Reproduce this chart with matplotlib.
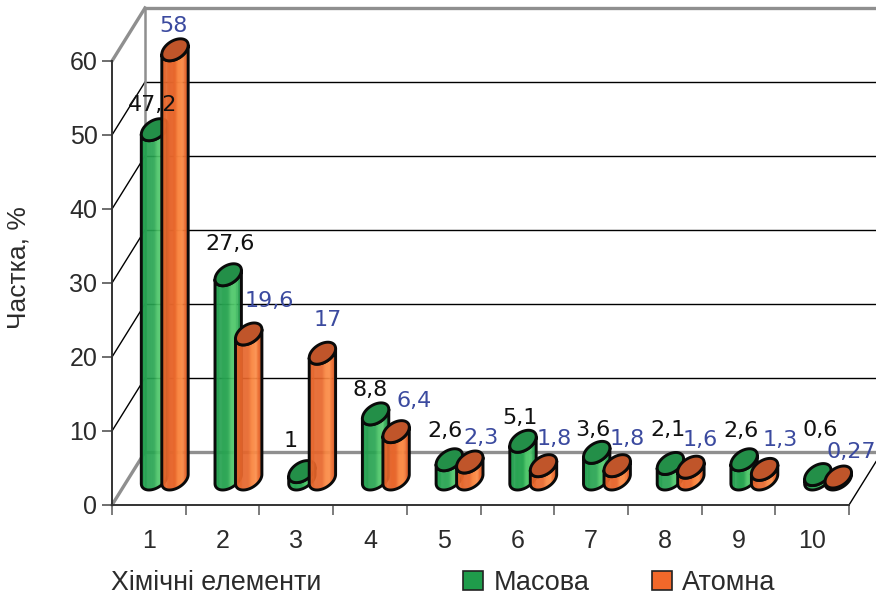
import numpy as np
import matplotlib
matplotlib.use("Agg")
import matplotlib.pyplot as plt
from matplotlib.patches import Patch

categories = ["1", "2", "3", "4", "5", "6", "7", "8", "9", "10"]
mass_values = [47.2, 27.6, 1, 8.8, 2.6, 5.1, 3.6, 2.1, 2.6, 0.6]
atom_values = [58, 19.6, 17, 6.4, 2.3, 1.8, 1.8, 1.6, 1.3, 0.27]
mass_labels = ["47,2", "27,6", "1", "8,8", "2,6", "5,1", "3,6", "2,1", "2,6", "0,6"]
atom_labels = ["58", "19,6", "17", "6,4", "2,3", "1,8", "1,8", "1,6", "1,3", "0,27"]
y_ticks = [0, 10, 20, 30, 40, 50, 60]

W, H = 876, 596
L, R, B, T = 112, 849, 505, 61
PX = (R - L) / 10          # px per category
PY = (B - T) / 60          # px per percent
DEPTH_X, DEPTH_Y = 33 / PX, 53 / PY

fig = plt.figure(figsize=(W / 100, H / 100), dpi=100, facecolor="white")
ax = fig.add_axes([L / W, (H - B) / H, (R - L) / W, (B - T) / H])
ax.set_xlim(0, 10)
ax.set_ylim(0, 60)
ax.patch.set_visible(False)
plt.rcParams["font.family"] = ["Liberation Sans", "DejaVu Sans"]
AXIS_FONT = "Liberation Sans"
LABEL_FONT = "DejaVu Sans"
TXT = "#2b2b2b"
GREY = "#8f8f8f"

# walls
right_lim = (W - L) / PX
for v in y_ticks[1:-1]:
    ax.plot([DEPTH_X, right_lim], [v + DEPTH_Y] * 2, color="black", lw=1, clip_on=False, zorder=1)
for v in y_ticks[1:-1]:
    ax.plot([0, DEPTH_X], [v, v + DEPTH_Y], color="black", lw=1, clip_on=False, zorder=1)
ax.plot([DEPTH_X, right_lim], [60 + DEPTH_Y] * 2, color=GREY, lw=2.4, clip_on=False, zorder=1)
ax.plot([DEPTH_X, right_lim], [DEPTH_Y] * 2, color=GREY, lw=2.4, clip_on=False, zorder=1)
ax.plot([DEPTH_X, DEPTH_X], [DEPTH_Y, 60 + DEPTH_Y], color=GREY, lw=1.8, clip_on=False, zorder=1)
ax.plot([0, DEPTH_X], [60, 60 + DEPTH_Y], color=GREY, lw=2.4, clip_on=False, zorder=1)
ax.plot([0, DEPTH_X], [0, DEPTH_Y], color=GREY, lw=2.4, clip_on=False, zorder=1)
ax.plot([10, right_lim], [0, (right_lim - 10) * PX * 53 / 33 / PY], color="black", lw=1, clip_on=False, zorder=1)

# cylinders
A, DX, DY = 12.0, 5.5, 11.0       # px geometry of a sheared disc
BASE_Y = 26 / PY
T0 = np.arctan2(DX, A)
U_STOPS = [0, 0.08, 0.5, 0.62, 0.78, 0.9, 1]
GREEN_BODY = ["#1f8f47", "#23a04f", "#2aa653", "#4cc568", "#55cb70", "#2ea655", "#1f8f47"]
ORANGE_BODY = ["#c9592c", "#e4652b", "#e8672c", "#f9853f", "#fb8d48", "#e9682d", "#c9592c"]


def hex_rgb(c):
    return np.array(matplotlib.colors.to_rgb(c))


def body_colour(u, stops):
    arr = np.array([hex_rgb(c) for c in stops])
    return [np.interp(u, U_STOPS, arr[:, k]) for k in range(3)]


def cylinder(cx, value, stops, top_colour, z):
    ts = np.linspace(T0 + np.pi, T0 + 2 * np.pi, 41)
    xs = cx + (A * np.cos(ts) + DX * np.sin(ts)) / PX
    low = BASE_Y + DY * np.sin(ts) / PY
    xmin, xmax = xs.min(), xs.max()
    for i in range(len(ts) - 1):
        u = ((xs[i] + xs[i + 1]) / 2 - xmin) / (xmax - xmin)
        ax.fill([xs[i], xs[i + 1], xs[i + 1], xs[i]],
                [low[i], low[i + 1], low[i + 1] + value, low[i] + value],
                color=body_colour(u, stops), lw=0.3, clip_on=False, zorder=z)
    ox = np.r_[xs, xs[::-1]]
    oy = np.r_[low, (low + value)[::-1]]
    ax.fill(ox, oy, facecolor="none", edgecolor="#0a0a0a", lw=2.1, clip_on=False, zorder=z, joinstyle="round")
    t = np.linspace(0, 2 * np.pi, 81)
    ex = cx + (A * np.cos(t) + DX * np.sin(t)) / PX
    ey = BASE_Y + value + DY * np.sin(t) / PY
    ax.fill(ex, ey, facecolor=top_colour, edgecolor="#0a0a0a", lw=2.1, clip_on=False, zorder=z)


MASS_OFFSET, ATOM_OFFSET = 42.5 / PX, 63 / PX
for i in range(len(categories)):
    z = 3 + i
    cylinder(i + MASS_OFFSET, mass_values[i], GREEN_BODY, "#238f48", z)
    cylinder(i + ATOM_OFFSET, atom_values[i], ORANGE_BODY, "#c0552a", z + 0.5)

# value labels: nudges from each cylinder's top, in points
mass_nudge = [(-1, 18), (1, 22), (-8, 22), (-4, 17), (-3, 21), (-2, 17), (-3, 16), (-2, 24), (-2, 21), (2, 32)]
atom_nudge = [(-1, 17), (15, 24), (3.5, 24), (13, 22), (8, 17), (7.5, 19.5), (7, 19), (7, 19.5), (11, 21), (9.5, 18)]
for i in range(len(categories)):
    ax.annotate(mass_labels[i], (i + MASS_OFFSET, BASE_Y + mass_values[i]), xytext=mass_nudge[i],
                textcoords="offset points", ha="center", va="center", fontsize=16,
                family=LABEL_FONT, color="#111111", zorder=40, annotation_clip=False)
    ax.annotate(atom_labels[i], (i + ATOM_OFFSET, BASE_Y + atom_values[i]), xytext=atom_nudge[i],
                textcoords="offset points", ha="center", va="center", fontsize=16,
                family=LABEL_FONT, color="#3b4a9f", zorder=40, annotation_clip=False)

# axes
for s in ("top", "right"):
    ax.spines[s].set_visible(False)
for s in ("left", "bottom"):
    ax.spines[s].set_color("#333333")
    ax.spines[s].set_linewidth(1.4)
    ax.spines[s].set_zorder(2)
ax.set_yticks(y_ticks)
ax.set_yticklabels([str(v) for v in y_ticks], fontsize=18, family=AXIS_FONT, color=TXT)
ax.tick_params(axis="y", length=7.5, width=1.2, color="#555555", pad=3)
ax.set_xticks(np.arange(0, 11))
ax.set_xticklabels([""] * 11)
ax.tick_params(axis="x", which="major", length=7, width=1.2, color="#666666")
ax.set_xticks(np.arange(10) + 0.5, minor=True)
ax.set_xticklabels(categories, minor=True, fontsize=18, family=AXIS_FONT, color=TXT)
ax.tick_params(axis="x", which="minor", length=0, pad=17)

ax.set_ylabel("Частка, %", fontsize=19, family=AXIS_FONT, color=TXT, va="center")
ax.yaxis.set_label_coords((19 - L) / (R - L), (B - 268) / (B - T))
ax.set_xlabel("Хімічні елементи", fontsize=19.3, family=AXIS_FONT, color=TXT, va="center", ha="left")
ax.xaxis.set_label_coords(-1 / (R - L), (B - 583) / (B - T))

handles = [Patch(facecolor="#1f9c4b", edgecolor="#222222", lw=1.2, label="Масова"),
           Patch(facecolor="#f2682a", edgecolor="#222222", lw=1.2, label="Атомна")]
ax.legend(handles=handles, loc="center left", ncol=2, frameon=False,
          bbox_to_anchor=((439 - L) / (R - L), (B - 583) / (B - T)),
          prop={"family": AXIS_FONT, "size": 19.5}, labelcolor=TXT,
          handlelength=0.74, handleheight=0.74, handletextpad=0.38, columnspacing=2.3)

fig.savefig("out.png", dpi=100)
